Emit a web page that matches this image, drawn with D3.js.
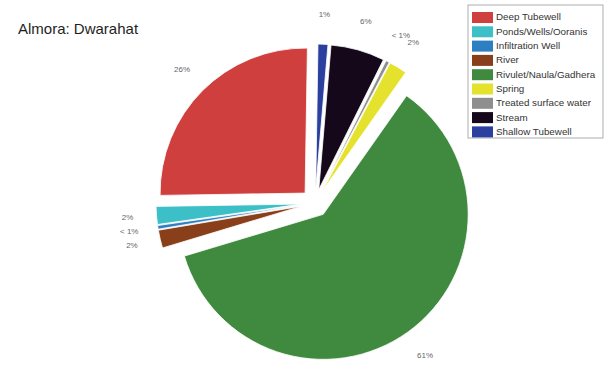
<!DOCTYPE html>
<html>
<head>
<meta charset="utf-8">
<script src="https://cdn.jsdelivr.net/npm/d3@7/dist/d3.min.js"></script>
<style>
  html, body { margin: 0; padding: 0; background: #fff; }
  svg { display: block; }
</style>
</head>
<body>
<svg id="chart" width="605" height="371"></svg>
<script>
// Drinking-water sources, share of households (%)
const categories = [
  "Deep Tubewell",
  "Ponds/Wells/Ooranis",
  "Infiltration Well",
  "River",
  "Rivulet/Naula/Gadhera",
  "Spring",
  "Treated surface water",
  "Stream",
  "Shallow Tubewell"
];
const shares = [25.5, 2.0, 0.4, 2.0, 60.6, 2.0, 0.4, 6.0, 1.1];
const colors = [
  "#cf3f3d", "#3cbfc6", "#2e7fc2", "#8a3f1b", "#3f8a3e",
  "#e4e22c", "#8e8e8e", "#14081a", "#2b3f9e"
];

const title = "Almora: Dwarahat";

const svg = d3.select("#chart");

const cx = 315, cy = 203, radius = 145, explode = 14, labelRadius = 188;
const firstSliceAngle = 0.9 * Math.PI / 180;

const data = categories.map((c, i) => ({ name: c, value: shares[i], color: colors[i] }));

// Slices run counter-clockwise from 12 o'clock
const pie = d3.pie()
  .sort(null)
  .value(d => d.value)
  .startAngle(firstSliceAngle)
  .endAngle(firstSliceAngle - 2 * Math.PI);

const arc = d3.arc().innerRadius(0).outerRadius(radius);

const arcs = pie(data);

const g = svg.append("g").attr("transform", `translate(${cx},${cy})`);

const mid = a => (a.startAngle + a.endAngle) / 2;

g.selectAll("path.slice")
  .data(arcs)
  .join("path")
  .attr("class", "slice")
  .attr("d", arc)
  .attr("fill", d => d.data.color)
  .attr("stroke", "#ffffff")
  .attr("stroke-width", 0.8)
  .attr("transform", d => {
    const m = mid(d);
    return `translate(${Math.sin(m) * explode},${-Math.cos(m) * explode})`;
  });

const fmt = v => (v < 1 ? "< 1%" : Math.round(v) + "%");

g.selectAll("text.pct")
  .data(arcs)
  .join("text")
  .attr("class", "pct")
  .attr("x", d => Math.sin(mid(d)) * labelRadius)
  .attr("y", d => -Math.cos(mid(d)) * labelRadius)
  .attr("text-anchor", "middle")
  .attr("dominant-baseline", "middle")
  .attr("font-family", "Liberation Sans, Arial, sans-serif")
  .attr("font-size", 8)
  .attr("fill", "#666")
  .text(d => fmt(d.data.value));

// Title
svg.append("text")
  .attr("x", 18)
  .attr("y", 34)
  .attr("font-family", "Liberation Sans, Arial, sans-serif")
  .attr("font-size", 15)
  .attr("fill", "#1e1e1e")
  .text(title);

// Legend
const lg = svg.append("g").attr("transform", "translate(468,5)");
lg.append("rect")
  .attr("x", 0).attr("y", 0)
  .attr("width", 135).attr("height", 133)
  .attr("fill", "#fff")
  .attr("stroke", "#9a9a9a")
  .attr("stroke-width", 0.8);

const rowStep = 14.3;
const rows = lg.selectAll("g.row")
  .data(data)
  .join("g")
  .attr("class", "row")
  .attr("transform", (d, i) => `translate(4,${7 + i * rowStep})`);

rows.append("rect")
  .attr("width", 21).attr("height", 11)
  .attr("fill", d => d.color);

rows.append("text")
  .attr("x", 24)
  .attr("y", 5.8)
  .attr("dominant-baseline", "middle")
  .attr("font-family", "Liberation Sans, Arial, sans-serif")
  .attr("font-size", 9.8)
  .attr("fill", "#333")
  .text(d => d.name);
</script>
</body>
</html>
